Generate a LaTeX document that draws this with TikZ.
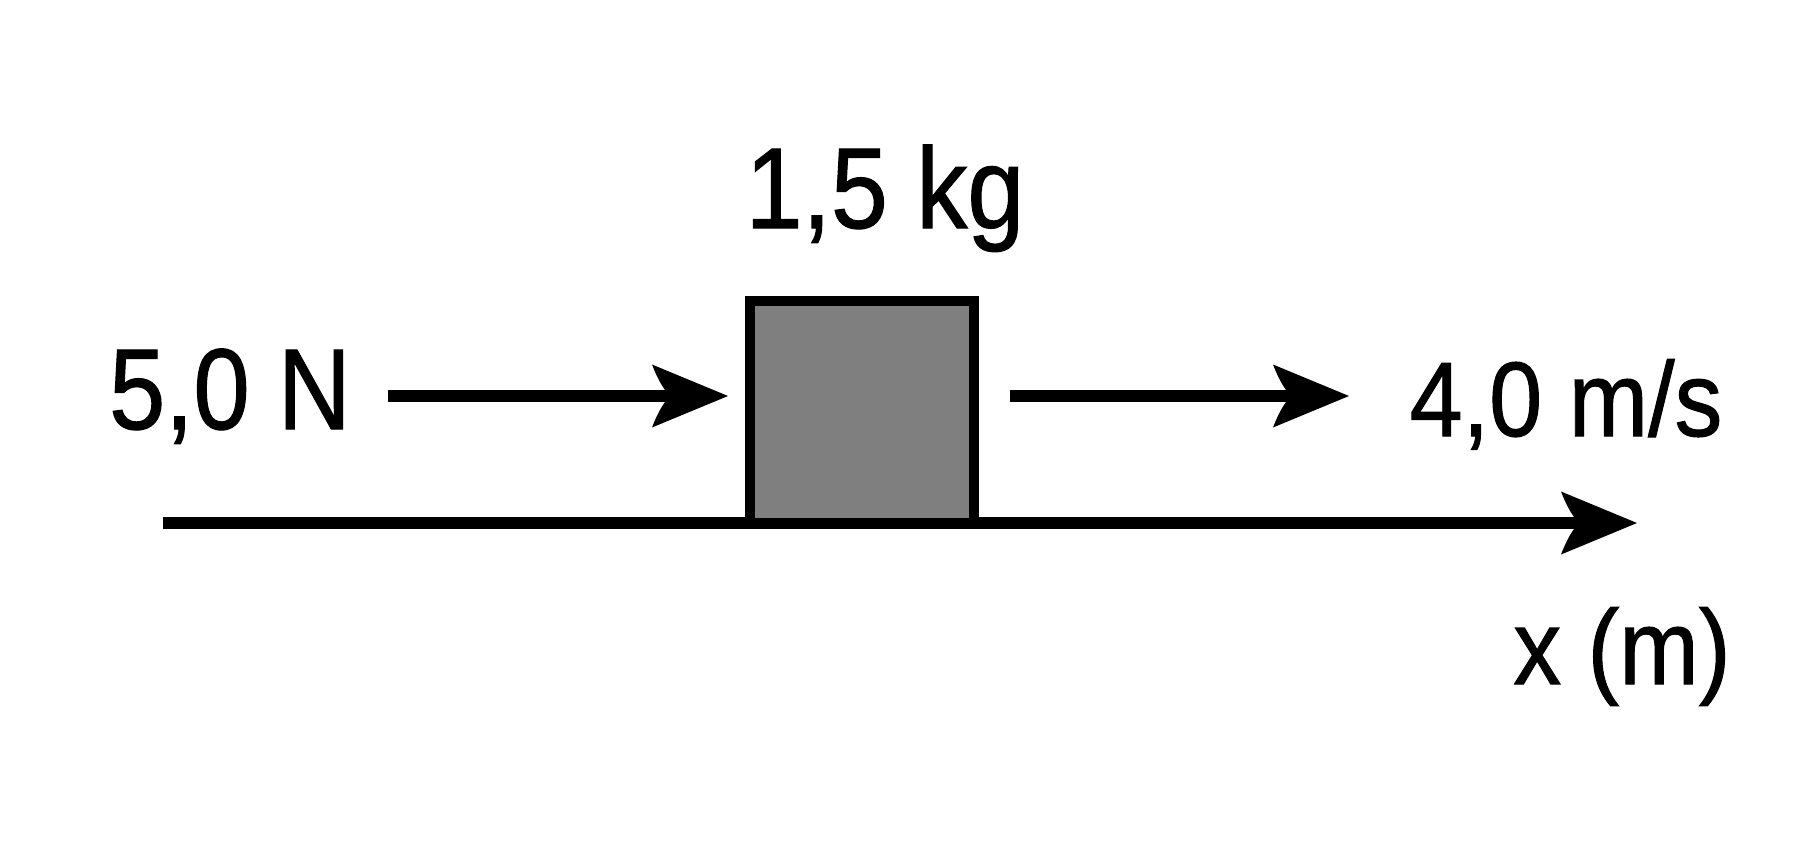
\documentclass[tikz,border=0pt]{standalone}
\usepackage{fontspec}
\usepackage{graphicx}
\setmainfont{Liberation Sans}
\newfontfamily\lblfont{Liberation Sans}[FakeBold=1.0]
\usetikzlibrary{arrows.meta}
\definecolor{blockgray}{HTML}{7F7F7F}
\pgfdeclarearrow{
  name=Swept,
  setup code={
    \pgfarrowssettipend{0pt}
    \pgfarrowssetlineend{-55pt}
    \pgfarrowshullpoint{0pt}{0pt}
    \pgfarrowsupperhullpoint{-76pt}{31.5pt}
  },
  drawing code={
    \pgfpathmoveto{\pgfpoint{0pt}{0pt}}
    \pgfpathlineto{\pgfpoint{-76pt}{31.5pt}}
    \pgfpathcurveto{\pgfpoint{-70pt}{16pt}}{\pgfpoint{-64pt}{6pt}}{\pgfpoint{-58pt}{0pt}}
    \pgfpathcurveto{\pgfpoint{-64pt}{-6pt}}{\pgfpoint{-70pt}{-16pt}}{\pgfpoint{-76pt}{-31.5pt}}
    \pgfpathclose
    \pgfusepathqfill
  }
}
\tikzset{
  vec/.style={line width=12pt, -{Swept}},
  block/.style={draw=black, line width=10pt, fill=blockgray, minimum width=224pt, minimum height=222pt, inner sep=0pt},
  lblbig/.style={inner sep=0pt, anchor=base, font=\lblfont\fontsize{115}{138}\selectfont},
  lblsmall/.style={inner sep=0pt, anchor=base, font=\lblfont\fontsize{106}{127}\selectfont}
}
\newcommand{\sq}[2]{\scalebox{#1}[1]{#2}}
\begin{document}
\begin{tikzpicture}[x=1pt,y=-1pt]
\useasboundingbox[fill=white] (0,0) rectangle (1814,867);
% axis
\coordinate (axS) at (163,523);
\coordinate (axE) at (1637,523);
\draw[vec] (axS) -- (axE);
% block
\node[block] (box) at (862,412) {};
% force arrow
\coordinate (fS) at (388,396);
\coordinate (fE) at (728,396);
\draw[vec] (fS) -- (fE);
% velocity arrow
\coordinate (vS) at (1010,396);
\coordinate (vE) at (1349,396);
\draw[vec] (vS) -- (vE);
% labels
\node[lblbig] (mass) at (885,228) {\sq{0.89}{1,5 kg}};
\node[lblbig] (force) at (230,429) {\sq{0.88}{5,0 N}};
\node[lblsmall] (vel) at (1566,436) {\sq{0.9}{4,0 m/s}};
\node[lblsmall] (xlab) at (1622,684) {\sq{0.9}{x (m)}};
\end{tikzpicture}
\end{document}
